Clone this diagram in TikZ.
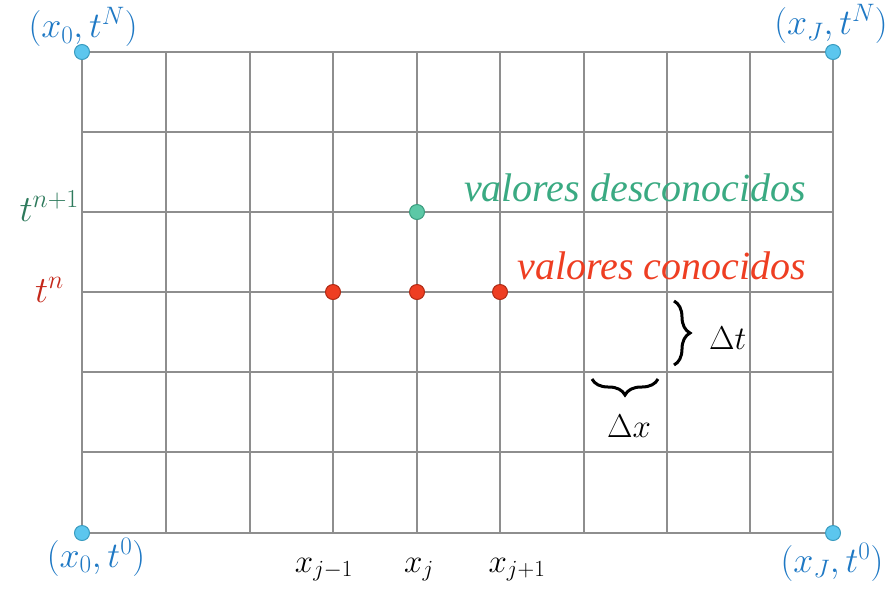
\RequirePackage{fix-cm}
\documentclass[tikz,border=0pt]{standalone}
\usepackage{fontspec}
\setmainfont{Liberation Serif}
\usetikzlibrary{decorations.pathreplacing}
\definecolor{gridc}{HTML}{8E8E8E}
\definecolor{cornfill}{HTML}{5CC6EE}
\definecolor{corndraw}{HTML}{3A9CC0}
\definecolor{greenfill}{HTML}{5CC8A6}
\definecolor{greendraw}{HTML}{3A9C7E}
\definecolor{redfill}{HTML}{EE3E22}
\definecolor{reddraw}{HTML}{B02A14}
\definecolor{bluetxt}{HTML}{1E78C4}
\definecolor{darkgreen}{HTML}{2E7A5C}
\definecolor{darkred}{HTML}{C4281A}
\definecolor{greentxt}{HTML}{3AAA82}
\definecolor{redtxt}{HTML}{EE3E22}
\tikzset{
  gridline/.style={draw=gridc, line width=2pt},
  corner/.style={circle, fill=cornfill, draw=corndraw, line width=1pt, minimum size=15pt, inner sep=0pt},
  unknown/.style={circle, fill=greenfill, draw=greendraw, line width=1pt, minimum size=15pt, inner sep=0pt},
  known/.style={circle, fill=redfill, draw=reddraw, line width=1pt, minimum size=15pt, inner sep=0pt},
  lbl/.style={inner sep=0pt, font=\fontsize{33}{40}\selectfont},
  cornlbl/.style={inner sep=0pt, text=bluetxt, font=\fontsize{36}{42}\selectfont},
  tlbl/.style={inner sep=0pt, font=\fontsize{37}{44}\selectfont},
  txtlbl/.style={inner sep=0pt, font=\fontsize{40}{48}\selectfont\itshape},
  bracestyle/.style={line width=3pt, decorate, decoration={brace, amplitude=16pt}}
}
\begin{document}
\begin{tikzpicture}[x=1pt,y=-1pt]
\useasboundingbox (0,0) rectangle (888,590);
% grid
\foreach \gx in {82,166,250,333,417,500,584,667,750,833} {
  \draw[gridline] (\gx,52) -- (\gx,533);
}
\foreach \gy in {52,132,212,292,372,452,533} {
  \draw[gridline] (82,\gy) -- (833,\gy);
}
% corner dots
\node[corner] (c00) at (82,533) {};
\node[corner] (c0N) at (82,52) {};
\node[corner] (cJ0) at (833,533) {};
\node[corner] (cJN) at (833,52) {};
% points
\node[unknown] (u) at (417,212) {};
\node[known] (km) at (333,292) {};
\node[known] (k0) at (417,292) {};
\node[known] (kp) at (500,292) {};
% corner labels
\node[cornlbl, anchor=center] (l0N) at (83,27) {$(x_0,t^N)$};
\node[cornlbl, anchor=center] (lJN) at (831,24) {$(x_J,t^N)$};
\node[cornlbl, anchor=center] (l00) at (96,557) {$(x_0,t^0)$};
\node[cornlbl, anchor=center] (lJ0) at (832,562) {$(x_J,t^0)$};
% axis labels
\node[tlbl, text=darkgreen, anchor=base east] (tn1) at (79,221) {$t^{n+1}$};
\node[tlbl, text=darkred, anchor=base east] (tn) at (64,302) {$t^{n}$};
\node[lbl, anchor=base] (xm) at (324,572) {$x_{j-1}$};
\node[lbl, anchor=base] (x0) at (419,572) {$x_{j}$};
\node[lbl, anchor=base] (xp) at (517,572) {$x_{j+1}$};
% texts
\node[txtlbl, text=greentxt, anchor=base east] (tu) at (806,201) {valores desconocidos};
\node[txtlbl, text=redtxt, anchor=base east] (tk) at (806,279) {valores conocidos};
% braces
\draw[bracestyle] (674,301) -- (674,365);
\draw[bracestyle] (658,379) -- (592,379);
\node[lbl, anchor=base west] (dt) at (709,349) {$\Delta t$};
\node[lbl, anchor=base] (dx) at (629,437) {$\Delta x$};
\end{tikzpicture}
\end{document}
